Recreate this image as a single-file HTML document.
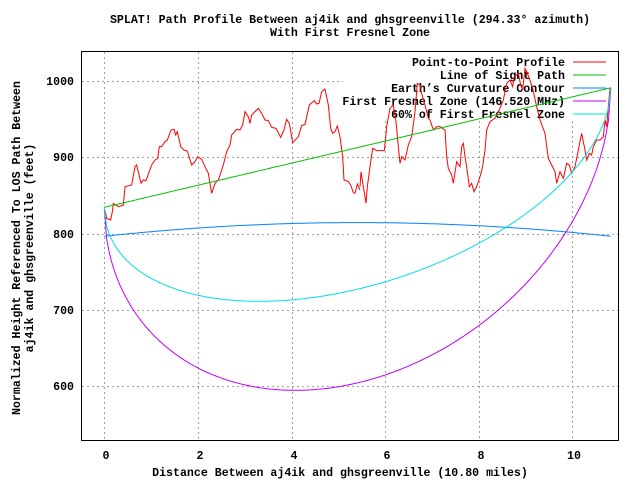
<!DOCTYPE html>
<html><head><meta charset="utf-8"><style>
body{margin:0;background:#fff}
svg text{font-family:"Liberation Mono",monospace;font-weight:bold;font-size:11.6px;fill:#000}
</style></head><body>
<svg id="s" width="640" height="480" xmlns="http://www.w3.org/2000/svg">
<rect width="640" height="480" fill="#fff"/>
<g stroke="#a0a0a0" stroke-dasharray="2,3" stroke-width="1">
<line x1="82" y1="81.5" x2="343" y2="81.5"/>
<line x1="82" y1="157.5" x2="618" y2="157.5"/>
<line x1="82" y1="234.5" x2="618" y2="234.5"/>
<line x1="82" y1="310.5" x2="618" y2="310.5"/>
<line x1="82" y1="386.5" x2="618" y2="386.5"/>
<line x1="104.5" y1="52" x2="104.5" y2="440"/>
<line x1="198.5" y1="52" x2="198.5" y2="440"/>
<line x1="292.5" y1="52" x2="292.5" y2="440"/>
<line x1="385.5" y1="121" x2="385.5" y2="440"/>
<line x1="479.5" y1="121" x2="479.5" y2="440"/>
<line x1="572.5" y1="121" x2="572.5" y2="440"/>
</g>
<rect x="81.5" y="51.5" width="537" height="389" fill="none" stroke="#000"/>
<g text-anchor="end">
<text x="74" y="85">1000</text><text x="74" y="161">900</text><text x="74" y="238">800</text><text x="74" y="314">700</text><text x="74" y="390">600</text>
</g>
<g text-anchor="middle">
<text x="106" y="459">0</text><text x="200" y="459">2</text><text x="294" y="459">4</text><text x="387" y="459">6</text><text x="481" y="459">8</text><text x="574" y="459">10</text>
<text x="340" y="476">Distance Between aj4ik and ghsgreenville (10.80 miles)</text>
<text x="350" y="23">SPLAT! Path Profile Between aj4ik and ghsgreenville (294.33° azimuth)</text>
<text x="350" y="36">With First Fresnel Zone</text>
<text transform="translate(20,248) rotate(-90)">Normalized Height Referenced To LOS Path Between</text>
<text transform="translate(33,248) rotate(-90)">aj4ik and ghsgreenville (feet)</text>
</g>
<g id="legend">
<g text-anchor="end">
<text x="565" y="66">Point-to-Point Profile</text>
<text x="565" y="79">Line of Sight Path</text>
<text x="565" y="92">Earth’s Curvature Contour</text>
<text x="565" y="105">First Fresnel Zone (146.520 MHz)</text>
<text x="565" y="118">60% of First Fresnel Zone</text>
</g>
<line x1="573" y1="62" x2="606" y2="62" stroke="#ff0000"/>
<line x1="573" y1="75" x2="606" y2="75" stroke="#00c000"/>
<line x1="573" y1="88" x2="606" y2="88" stroke="#0080ff"/>
<line x1="573" y1="101" x2="606" y2="101" stroke="#c000ff"/>
<line x1="573" y1="114" x2="606" y2="114" stroke="#00e0e0"/>
</g>
<g fill="none" stroke="#ff0000" stroke-width="1">
<polyline transform="translate(60,30) scale(0.33333)" stroke-width="3" points="133,535 137,550 140,565 152,570 157,545 160,520 175,530 190,525 195,470 215,465 225,410 230,405 243,460 250,450 258,452 275,405 285,390 293,385 298,350 305,350 315,335 322,330 333,300 342,298 347,315 352,305 362,350 372,360 382,363 395,405 405,395 413,380 425,388 435,410 445,430 455,490 465,460 475,450 490,405 500,365 510,345 515,315 530,298 540,300 548,285 555,245 565,260 570,280 575,255 585,245 595,235 605,250 615,270 625,272 635,292 648,295 662,322 672,300 680,268 688,280 698,338 715,320 725,287 735,283 748,225 763,212 770,222 777,220 785,185 795,177 805,225 812,295 818,310 825,305 832,288 840,320 848,380 852,450 865,455 872,465 880,488 885,490 892,462 900,480"/>
<polyline transform="translate(330,30) scale(0.33333)" stroke-width="3" points="90,470 93,425 100,470 108,520 112,470 120,410 128,355 140,362 163,362 170,290 180,235 190,225 198,275 205,350 210,400 215,380 225,390 235,345 245,320 255,245 262,160 270,165 275,190 285,225 295,265 300,270 310,300 320,290 330,290 345,300 350,380 355,415 365,435 370,460 380,395 390,410 395,350 400,340 405,380 410,410 418,470 425,460 432,485 440,470 450,440 458,410 465,360 470,300 480,275 495,265 510,235 520,210 530,160 540,150 548,170 553,140 565,130 572,165 578,180 585,115 590,125 598,145 608,175 620,230 630,270 645,310 655,385 665,405 675,425 680,460 690,425 700,445 710,400 718,405 725,430 735,410 745,360 755,310 765,360 770,390 778,370 785,375 790,350 800,330 810,330 820,320 825,270 830,290 835,230 840,175"/>
</g>
<g id="curves" fill="none" stroke-width="1"></g>
</svg>
<script>
(function(){
var px=function(d){return 104.3+46.9*d},py=function(v){return 81.7+(1000-v)*0.7615};
var D=10.8,g=document.getElementById('curves'),ns='http://www.w3.org/2000/svg';
function add(f,c){var p=[];for(var i=0;i<=216;i++){var d=D*i/216;p.push(px(d).toFixed(1)+','+py(f(d)).toFixed(1));}
var e=document.createElementNS(ns,'polyline');e.setAttribute('points',p.join(' '));e.setAttribute('stroke',c);g.appendChild(e);}
var los=function(d){return 835+157*d/D};
var r=function(d){return Math.sqrt(d*(D-d))/(D/2)};
add(los,'#00c000');
add(function(d){return 797+18*4*d*(D-d)/(D*D)},'#0080ff');
add(function(d){return los(d)-309*r(d)},'#c000ff');
add(function(d){return los(d)-186*r(d)},'#00e0e0');
})();
</script>
</body></html>
